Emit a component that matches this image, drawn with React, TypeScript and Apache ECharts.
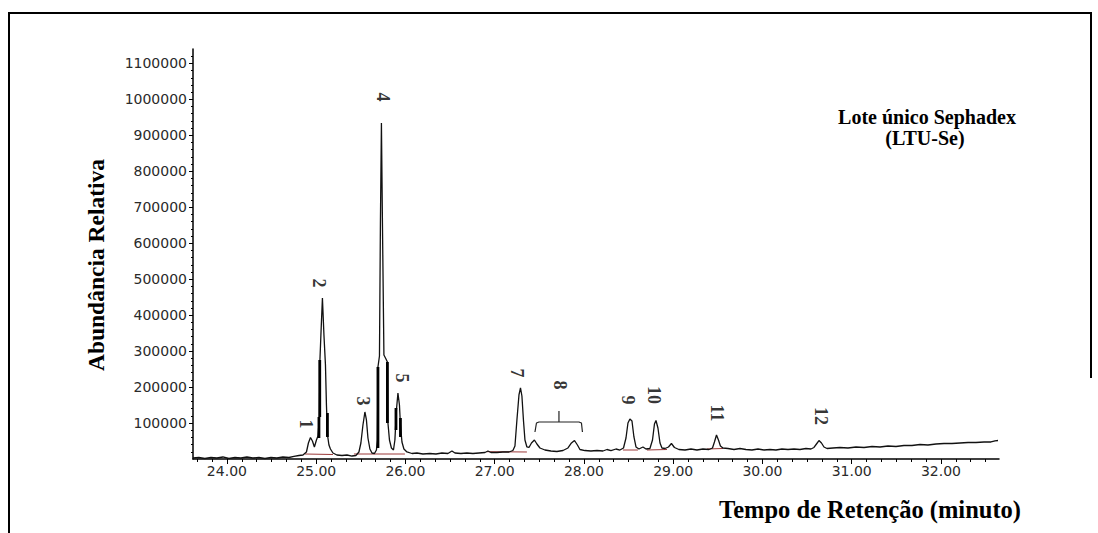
import React, { useEffect, useRef } from "react";
import * as echarts from "echarts";

// Chromatogram trace: retention time (min) and relative abundance
const retentionTime = [
  23.62, 23.686, 23.753, 23.821, 23.888, 23.955, 24.022, 24.09, 24.157, 24.224,
  24.291, 24.359, 24.426, 24.493, 24.56, 24.627, 24.695, 24.751, 24.807, 24.852,
  24.891, 24.913, 24.936, 24.958, 24.98, 25.003, 25.02, 25.036, 25.042, 25.053,
  25.07, 25.087, 25.104, 25.115, 25.123, 25.13, 25.143, 25.16, 25.188, 25.232,
  25.289, 25.345, 25.401, 25.445, 25.479, 25.501, 25.524, 25.546, 25.563, 25.58,
  25.602, 25.625, 25.653, 25.675, 25.686, 25.692, 25.709, 25.72, 25.731, 25.742,
  25.759, 25.782, 25.798, 25.804, 25.821, 25.843, 25.866, 25.882, 25.899, 25.916,
  25.933, 25.944, 25.961, 25.983, 26.017, 26.073, 26.129, 26.196, 26.274, 26.342,
  26.409, 26.476, 26.521, 26.555, 26.622, 26.689, 26.756, 26.824, 26.891, 26.924,
  26.958, 27.025, 27.092, 27.16, 27.204, 27.227, 27.249, 27.272, 27.289, 27.305,
  27.322, 27.339, 27.361, 27.384, 27.412, 27.445, 27.473, 27.507, 27.563, 27.63,
  27.697, 27.765, 27.821, 27.86, 27.894, 27.927, 27.955, 28.011, 28.078, 28.146,
  28.213, 28.258, 28.303, 28.359, 28.403, 28.443, 28.471, 28.493, 28.515, 28.538,
  28.56, 28.583, 28.616, 28.661, 28.695, 28.739, 28.768, 28.79, 28.807, 28.829,
  28.852, 28.874, 28.908, 28.947, 28.98, 29.014, 29.064, 29.132, 29.199, 29.266,
  29.333, 29.401, 29.44, 29.462, 29.485, 29.507, 29.529, 29.557, 29.613, 29.681,
  29.748, 29.815, 29.882, 29.95, 30.017, 30.084, 30.151, 30.218, 30.286, 30.353,
  30.42, 30.487, 30.543, 30.577, 30.605, 30.633, 30.661, 30.689, 30.723, 30.79,
  30.868, 30.958, 31.048, 31.138, 31.227, 31.317, 31.406, 31.496, 31.585, 31.675,
  31.765, 31.854, 31.944, 32.034, 32.123, 32.213, 32.303, 32.392, 32.482, 32.56,
  32.605, 32.639,
];
const abundance = [
  2800, 4200, 1400, 4200, 2800, 5600, 1400, 4200, 2800, 5600,
  2800, 4200, 1400, 4200, 2800, 5600, 4200, 7000, 9700, 11100,
  19500, 44500, 59800, 50100, 33400, 52800, 64000, 114000, 275300, 344800,
  447700, 344800, 261400, 150200, 94600, 61200, 38900, 27800, 16700, 11100,
  9700, 11100, 8300, 9700, 19500, 44500, 94600, 130700, 108500, 58400,
  27800, 16700, 15300, 25000, 52800, 255900, 286400, 664700, 934400, 664700,
  289200, 278100, 269800, 100100, 52800, 30600, 25000, 52800, 136300, 183500,
  150200, 94600, 47300, 27800, 19500, 15300, 16700, 13900, 15300, 13900,
  16700, 15300, 22200, 16700, 15300, 16700, 15300, 16700, 18100, 22200,
  18100, 18100, 19500, 19500, 23600, 36200, 108500, 178000, 197500, 175200,
  108500, 52800, 33400, 32000, 44500, 52800, 41700, 30600, 25000, 22200,
  20900, 23600, 30600, 44500, 51400, 38900, 26400, 23600, 22200, 23600,
  22200, 26400, 23600, 27800, 25000, 30600, 58400, 100100, 111200, 105700,
  61200, 33400, 27800, 33400, 27800, 29200, 52800, 97300, 107100, 86200,
  44500, 30600, 29200, 33400, 43100, 32000, 26400, 25000, 27800, 25000,
  27800, 26400, 30600, 47300, 66700, 52800, 36200, 30600, 29200, 26400,
  29200, 26400, 25000, 27800, 25000, 26400, 25000, 27800, 26400, 27800,
  26400, 29200, 27800, 32000, 41700, 51400, 44500, 33400, 29200, 30600,
  32000, 30600, 33400, 32000, 34800, 33400, 36200, 34800, 37500, 37500,
  40300, 38900, 41700, 43100, 43100, 44500, 45900, 45900, 47300, 47300,
  50100, 51400,
];

// Peak numbers and where they are written
const peakLabels = ["1", "2", "3", "4", "5", "7", "8", "9", "10", "11", "12"];
const peakLabelTime = [24.885, 25.031, 25.524, 25.748, 25.961, 27.249, 27.731, 28.493, 28.79, 29.49, 30.655];
const peakLabelAbundance = [97300, 489500, 161300, 1006700, 225300, 239200, 205800, 164100, 178000, 127900, 119600];

// Thick integration marks on peak flanks: [time, from, to]
const flankMarks = [
  [25.031, 58400, 116800],
  [25.04, 116800, 275300],
  [25.126, 61200, 127900],
  [25.692, 30600, 255900],
  [25.798, 100100, 269800],
  [25.894, 80600, 141800],
  [25.944, 61200, 114000],
];

// Integration baselines (red): [t1, y1, t2, y2]
const integrationBaselines = [
  [24.874, 13900, 25.188, 12500],
  [25.423, 13900, 25.994, 13900],
  [26.913, 20300, 27.361, 19500],
  [28.437, 25000, 28.605, 25000],
  [28.706, 25000, 28.93, 26400],
  [29.378, 27800, 29.557, 29200],
];

// Bracket grouping peak 8
const bracketTime = [27.451, 27.468, 27.496, 27.72, 27.72, 27.72, 27.944, 27.972, 27.983];
const bracketAbundance = [75100, 100100, 102900, 102900, 133500, 102900, 102900, 100100, 75100];

const xTickLabels = [24, 25, 26, 27, 28, 29, 30, 31, 32];
const yTickLabels = [100000, 200000, 300000, 400000, 500000, 600000, 700000, 800000, 900000, 1000000, 1100000];

const X_MIN = 23.62;
const X_MAX = 32.65;

export default function App() {
  const ref = useRef<HTMLDivElement>(null);

  useEffect(() => {
    if (!ref.current) return;
    const chart = echarts.init(ref.current, null, { renderer: "svg" });

    const minorTicks: number[] = [];
    for (let k = -3; k <= 54; k++) {
      const t = 24 + k / 6;
      if (t >= X_MIN && t <= X_MAX && k % 6 !== 0) minorTicks.push(+t.toFixed(4));
    }

    const sans = "DejaVu Sans";
    const serif = "Liberation Serif";

    const option: any = {
      animation: false,
      backgroundColor: "#ffffff",
      grid: { left: 193, right: 99, top: 49, bottom: 74 },
      xAxis: [
        {
          type: "value",
          min: X_MIN,
          max: X_MAX,
          axisLine: { show: true, onZero: false, lineStyle: { color: "#000", width: 1.5 } },
          axisTick: { show: true, customValues: xTickLabels, length: 5, lineStyle: { color: "#000", width: 1 } },
          axisLabel: {
            show: true,
            customValues: xTickLabels,
            formatter: (v: number) => v.toFixed(2),
            margin: 5,
            color: "#2a2a2a",
            fontFamily: sans,
            fontSize: 14,
          },
          splitLine: { show: false },
        },
        {
          type: "value",
          min: X_MIN,
          max: X_MAX,
          position: "bottom",
          axisLine: { show: false, onZero: false },
          axisTick: { show: true, customValues: minorTicks, length: 3, lineStyle: { color: "#000", width: 1 } },
          axisLabel: { show: false },
          splitLine: { show: false },
        },
      ],
      yAxis: {
        type: "value",
        min: 0,
        max: 1140000,
        interval: 100000,
        axisLine: { show: true, lineStyle: { color: "#000", width: 1.5 } },
        axisTick: { show: true, customValues: yTickLabels, length: 4, lineStyle: { color: "#000" } },
        minorTick: { show: true, splitNumber: 5, length: 2, lineStyle: { color: "#000" } },
        axisLabel: {
          show: true,
          customValues: yTickLabels,
          formatter: (v: number) => String(Math.round(v)),
          margin: 6,
          color: "#2a2a2a",
          fontFamily: sans,
          fontSize: 14,
        },
        splitLine: { show: false },
      },
      series: [
        {
          type: "custom",
          xAxisIndex: 0,
          z: 2,
          data: integrationBaselines,
          renderItem: (_p: any, api: any) => {
            const a = api.coord([api.value(0), api.value(1)]);
            const b = api.coord([api.value(2), api.value(3)]);
            return {
              type: "line",
              shape: { x1: a[0], y1: a[1], x2: b[0], y2: b[1] },
              style: { stroke: "#9c3a3a", lineWidth: 1 },
            };
          },
        },
        {
          type: "line",
          xAxisIndex: 0,
          z: 3,
          showSymbol: false,
          symbol: "none",
          data: retentionTime.map((t, i) => [t, abundance[i]]),
          lineStyle: { color: "#111", width: 1.3 },
        },
        {
          type: "custom",
          xAxisIndex: 0,
          z: 4,
          data: flankMarks,
          renderItem: (_p: any, api: any) => {
            const a = api.coord([api.value(0), api.value(1)]);
            const b = api.coord([api.value(0), api.value(2)]);
            return {
              type: "line",
              shape: { x1: a[0], y1: a[1], x2: b[0], y2: b[1] },
              style: { stroke: "#000", lineWidth: 2.8 },
            };
          },
        },
        {
          type: "line",
          xAxisIndex: 0,
          z: 4,
          showSymbol: false,
          symbol: "none",
          data: bracketTime.map((t, i) => [t, bracketAbundance[i]]),
          lineStyle: { color: "#222", width: 1.2 },
        },
        {
          type: "scatter",
          xAxisIndex: 0,
          z: 5,
          symbolSize: 1,
          itemStyle: { color: "transparent" },
          data: peakLabels.map((l, i) => ({ name: l, value: [peakLabelTime[i], peakLabelAbundance[i]] })),
          label: {
            show: true,
            position: "inside",
            rotate: -90,
            formatter: "{b}",
            color: "#000",
            fontFamily: serif,
            fontWeight: "bold",
            fontSize: 18,
          },
        },
      ],
      graphic: [
        { type: "line", silent: true, shape: { x1: 9, y1: 13, x2: 1092, y2: 13 }, style: { stroke: "#000", lineWidth: 2 } },
        { type: "line", silent: true, shape: { x1: 9, y1: 12, x2: 9, y2: 533 }, style: { stroke: "#000", lineWidth: 2 } },
        { type: "line", silent: true, shape: { x1: 1091, y1: 12, x2: 1091, y2: 378 }, style: { stroke: "#000", lineWidth: 2 } },
        {
          type: "text",
          silent: true,
          x: 96,
          y: 265,
          rotation: Math.PI / 2,
          style: {
            text: "Abundância Relativa",
            font: `bold 23.5px "${serif}"`,
            fill: "#000",
            align: "center",
            verticalAlign: "middle",
            textAlign: "center",
            textVerticalAlign: "middle",
          },
        },
        {
          type: "text",
          silent: true,
          x: 870,
          y: 509,
          style: {
            text: "Tempo de Retenção (minuto)",
            font: `bold 24.5px "${serif}"`,
            fill: "#000",
            align: "center",
            verticalAlign: "middle",
            textAlign: "center",
            textVerticalAlign: "middle",
          },
        },
        {
          type: "text",
          silent: true,
          x: 927,
          y: 117,
          style: {
            text: "Lote único Sephadex",
            font: `bold 20px "${serif}"`,
            fill: "#000",
            align: "center",
            verticalAlign: "middle",
            textAlign: "center",
            textVerticalAlign: "middle",
          },
        },
        {
          type: "text",
          silent: true,
          x: 925,
          y: 138,
          style: {
            text: "(LTU-Se)",
            font: `bold 20px "${serif}"`,
            fill: "#000",
            align: "center",
            verticalAlign: "middle",
            textAlign: "center",
            textVerticalAlign: "middle",
          },
        },
      ],
    };

    chart.setOption(option);
    return () => chart.dispose();
  }, []);

  return (
    <div
      ref={ref}
      style={{ position: "fixed", left: 0, top: 0, width: 1098, height: 533, background: "#fff" }}
    />
  );
}
